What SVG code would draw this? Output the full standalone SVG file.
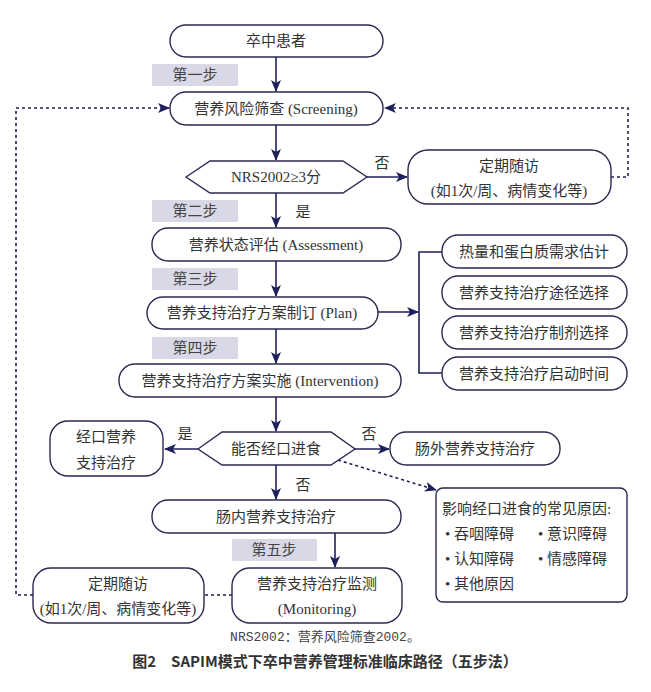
<svg xmlns="http://www.w3.org/2000/svg" width="651" height="692" viewBox="0 0 651 692">
<style>
.n{fill:#fff;stroke:#2a2a50;stroke-width:1.4}
.t{font-family:"Liberation Serif","Noto Sans CJK SC",serif;font-size:15px;fill:#333;text-anchor:middle}
.tl{font-family:"Liberation Serif","Noto Sans CJK SC",serif;font-size:15px;fill:#333}
.s{fill:#d8d8e7}
.st{font-family:"Liberation Serif","Noto Sans CJK SC",serif;font-size:15px;fill:#444;text-anchor:middle}
.c{fill:none;stroke:#1f1f5c;stroke-width:1.6}
.d{fill:none;stroke:#1f1f5c;stroke-width:1.6;stroke-dasharray:3,3}
</style>
<defs>
<marker id="ah" markerWidth="12" markerHeight="10" refX="11" refY="5" orient="auto" markerUnits="userSpaceOnUse">
<path d="M0,0 L12,5 L0,10 L3,5 z" fill="#1f1f5c"/>
</marker>
</defs>
<rect width="651" height="692" fill="#fff"/>

<g id="connectors">
<path class="c" d="M276,57 V91" marker-end="url(#ah)"/>
<path class="c" d="M276,125 V160" marker-end="url(#ah)"/>
<path class="c" d="M367,177 H407" marker-end="url(#ah)"/>
<path class="d" d="M611,177 H628 V108 H385" marker-end="url(#ah)"/>
<path class="c" d="M276,193 V227" marker-end="url(#ah)"/>
<path class="c" d="M276,261 V296" marker-end="url(#ah)"/>
<path class="c" d="M378,312 H418" marker-end="url(#ah)"/>
<path class="c" d="M442,252 H419 V373 H442"/>
<path class="c" d="M276,329 V363" marker-end="url(#ah)"/>
<path class="c" d="M276,397 V431" marker-end="url(#ah)"/>
<path class="c" d="M198,449 H165" marker-end="url(#ah)"/>
<path class="c" d="M355,449 H389" marker-end="url(#ah)"/>
<path class="c" d="M276,465 V499" marker-end="url(#ah)"/>
<path class="d" d="M338,460 L436,490" marker-end="url(#ah)"/>
<path class="c" d="M335,533 V567" marker-end="url(#ah)"/>
<path class="d" d="M232,595 H204"/>
<path class="d" d="M33,595 H16 V108 H169" marker-end="url(#ah)"/>
</g>

<g id="labels">
<rect class="s" x="152" y="64" width="86" height="22"/>
<text class="st" x="195" y="80">第一步</text>
<rect class="s" x="152" y="200" width="86" height="22"/>
<text class="st" x="195" y="216">第二步</text>
<rect class="s" x="152" y="268" width="86" height="22"/>
<text class="st" x="195" y="284">第三步</text>
<rect class="s" x="152" y="337" width="86" height="22"/>
<text class="st" x="195" y="353">第四步</text>
<rect class="s" x="232" y="539" width="85" height="22"/>
<text class="st" x="274" y="555">第五步</text>
<text class="t" x="382" y="168">否</text>
<text class="t" x="303" y="217">是</text>
<text class="t" x="185" y="439">是</text>
<text class="t" x="369" y="439">否</text>
<text class="t" x="303" y="490">否</text>
</g>

<g id="n1"><rect class="n" x="170" y="25" width="213" height="32" rx="16"/><text class="t" x="276" y="46">卒中患者</text></g>
<g id="n2"><rect class="n" x="170" y="92" width="213" height="33" rx="16"/><text class="t" x="276" y="114">营养风险筛查 (Screening)</text></g>
<g id="n3"><polygon class="n" points="186,177 210,161 343,161 367,177 343,193 210,193"/><text class="t" x="276" y="182">NRS2002≥3分</text></g>
<g id="n4"><rect class="n" x="408" y="150" width="203" height="54" rx="20"/><text class="t" x="509" y="171">定期随访</text><text class="t" x="509" y="196">(如1次/周、病情变化等)</text></g>
<g id="n5"><rect class="n" x="152" y="228" width="249" height="33" rx="16"/><text class="t" x="276" y="250">营养状态评估 (Assessment)</text></g>
<g id="n6"><rect class="n" x="147" y="297" width="231" height="32" rx="16"/><text class="t" x="262" y="318">营养支持治疗方案制订 (Plan)</text></g>
<g id="n7"><rect class="n" x="119" y="364" width="282" height="33" rx="16"/><text class="t" x="260" y="386">营养支持治疗方案实施 (Intervention)</text></g>
<g id="r1"><rect class="n" x="442" y="235" width="185" height="33" rx="16"/><text class="t" x="534" y="257">热量和蛋白质需求估计</text></g>
<g id="r2"><rect class="n" x="442" y="276" width="185" height="33" rx="16"/><text class="t" x="534" y="298">营养支持治疗途径选择</text></g>
<g id="r3"><rect class="n" x="442" y="316" width="185" height="33" rx="16"/><text class="t" x="534" y="338">营养支持治疗制剂选择</text></g>
<g id="r4"><rect class="n" x="442" y="357" width="185" height="33" rx="16"/><text class="t" x="534" y="379">营养支持治疗启动时间</text></g>
<g id="n8"><polygon class="n" points="198,449 222,432 331,432 355,449 331,465 222,465"/><text class="t" x="276" y="454">能否经口进食</text></g>
<g id="n9"><rect class="n" x="50" y="421" width="113" height="55" rx="18"/><text class="t" x="106" y="442">经口营养</text><text class="t" x="106" y="468">支持治疗</text></g>
<g id="n10"><rect class="n" x="390" y="432" width="170" height="33" rx="16"/><text class="t" x="475" y="454">肠外营养支持治疗</text></g>
<g id="n11"><rect class="n" x="152" y="500" width="249" height="33" rx="16"/><text class="t" x="276" y="522">肠内营养支持治疗</text></g>
<g id="n12"><rect class="n" x="436" y="488" width="191" height="114" rx="7"/>
<text class="tl" x="442" y="514">影响经口进食的常见原因:</text>
<text class="tl" x="445" y="539">• 吞咽障碍</text><text class="tl" x="538" y="539">• 意识障碍</text>
<text class="tl" x="445" y="564">• 认知障碍</text><text class="tl" x="538" y="564">• 情感障碍</text>
<text class="tl" x="445" y="589">• 其他原因</text></g>
<g id="n13"><rect class="n" x="232" y="568" width="170" height="55" rx="18"/><text class="t" x="317" y="589">营养支持治疗监测</text><text class="t" x="317" y="614">(Monitoring)</text></g>
<g id="n14"><rect class="n" x="33" y="568" width="171" height="55" rx="18"/><text class="t" x="118" y="589">定期随访</text><text class="t" x="118" y="614">(如1次/周、病情变化等)</text></g>

<text x="325" y="641" style="font-family:'Liberation Mono','Noto Sans CJK SC',monospace;font-size:13px;fill:#444;text-anchor:middle">NRS2002：营养风险筛查2002。</text>
<text x="325" y="667" style="font-family:'Noto Sans CJK SC',sans-serif;font-size:15px;font-weight:bold;fill:#333;text-anchor:middle">图2　SAPIM模式下卒中营养管理标准临床路径（五步法）</text>
</svg>
